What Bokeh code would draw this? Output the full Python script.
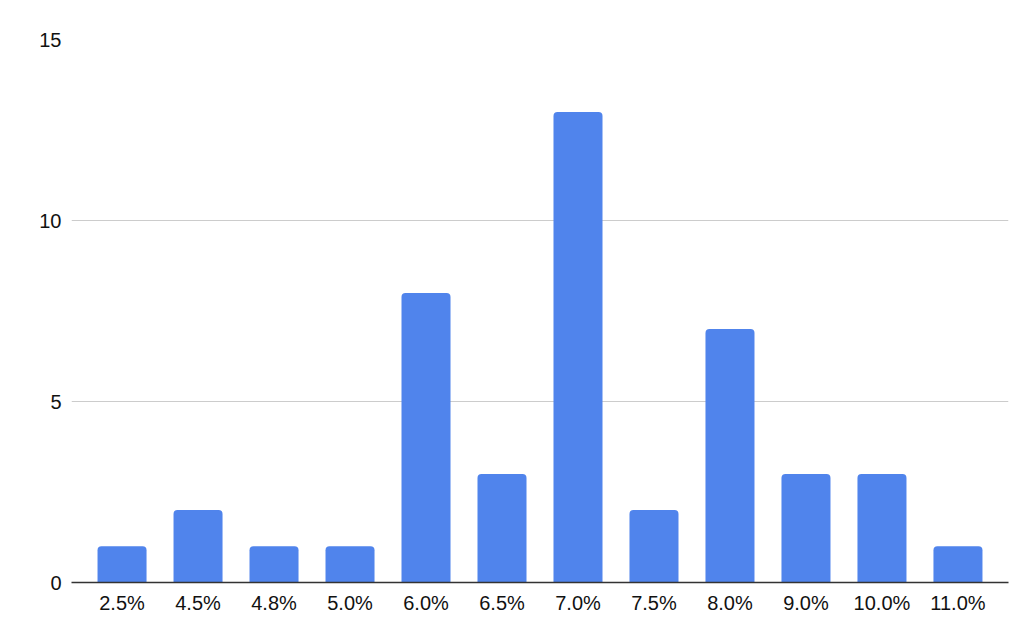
from bokeh.plotting import figure
from bokeh.models import FactorRange, FixedTicker, ColumnDataSource, Range1d
from bokeh.embed import file_html
from bokeh.resources import INLINE

categories = ["2.5%", "4.5%", "4.8%", "5.0%", "6.0%", "6.5%", "7.0%", "7.5%", "8.0%", "9.0%", "10.0%", "11.0%"]
counts = [1, 2, 1, 1, 8, 3, 13, 2, 7, 3, 3, 1]
y_ticks = [0, 5, 10, 15]

src = ColumnDataSource(dict(cat=categories, n=counts))

p = figure(
    x_range=FactorRange(factors=categories, range_padding=0.165, range_padding_units="absolute"),
    y_range=Range1d(0, 15),
    width=1024, height=627,
    output_backend="svg", toolbar_location=None,
    min_border_left=71, min_border_right=16, min_border_top=39, min_border_bottom=45,
)
p.outline_line_color = None
p.background_fill_color = "white"
p.border_fill_color = "white"

p.vbar(x="cat", top="n", width=0.645, source=src, fill_color="#5084EC",
       line_color=None, border_radius=(4, 4, 0, 0))

p.xgrid.grid_line_color = None
p.ygrid.grid_line_color = "#CCCCCC"
p.ygrid.grid_line_width = 1
p.yaxis.ticker = FixedTicker(ticks=y_ticks)

for ax in (p.xaxis, p.yaxis):
    ax.major_tick_line_color = None
    ax.minor_tick_line_color = None
    ax.major_label_text_font = "Liberation Sans"
    ax.major_label_text_font_size = "20px"
    ax.major_label_text_color = "#111111"

p.yaxis.axis_line_color = None
p.yaxis.major_label_standoff = 4
p.xaxis.axis_line_color = "#333333"
p.xaxis.axis_line_width = 1.5
p.xaxis.major_label_standoff = 3

open("out.html", "w").write(file_html(p, INLINE))
